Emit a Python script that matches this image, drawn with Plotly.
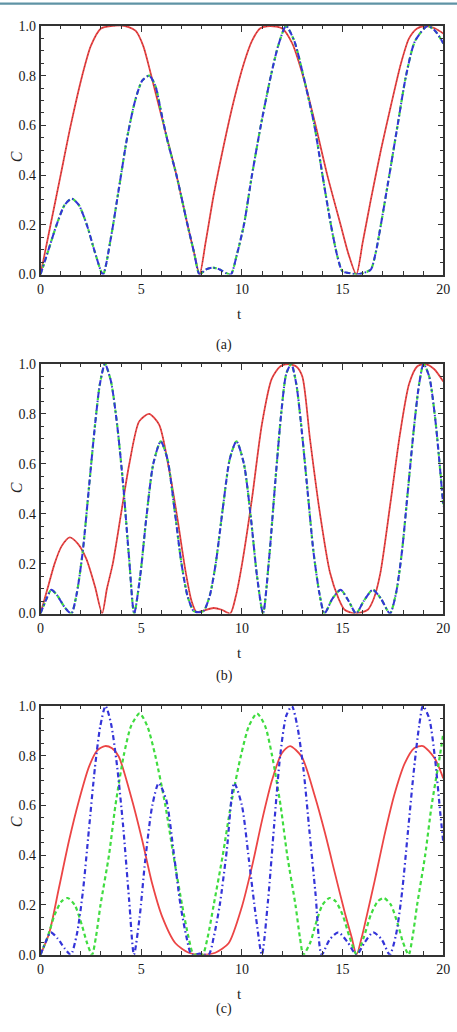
import plotly.graph_objects as go

# ---------------- data ----------------
# Panel (a)
ta_red = [0, 0.5, 1.0, 1.5, 2.07, 2.5, 3.0, 3.5, 4.2, 4.73, 5.1, 5.5, 6.12, 6.75, 7.3, 7.62, 7.9,
          8.2, 8.6, 9.1, 9.6, 10.1, 10.5, 10.9, 11.4, 12.0, 12.5, 13.03, 13.66, 14.24, 14.9, 15.3, 15.68,
          16.0, 16.4, 16.9, 17.4, 17.9, 18.3, 18.7, 19.1, 19.6, 20.0]
ca_red = [0, 0.2, 0.4, 0.6, 0.8, 0.92, 0.99, 1.0, 1.0, 0.98, 0.92, 0.8, 0.6, 0.4, 0.2, 0.09, 0.0,
          0.13, 0.32, 0.52, 0.7, 0.85, 0.94, 0.99, 1.0, 0.99, 0.93, 0.8, 0.6, 0.4, 0.2, 0.08, 0.0,
          0.13, 0.3, 0.5, 0.68, 0.85, 0.95, 0.99, 1.0, 0.99, 0.97]

ta_gb = [0, 0.4, 0.8, 1.2, 1.55, 1.9, 2.3, 2.7, 3.1, 3.5, 3.9, 4.3, 4.7, 5.05, 5.4, 5.7, 6.0, 6.3,
         6.75, 7.3, 7.62, 7.9, 8.2, 8.55, 8.9, 9.2, 9.45, 9.75, 10.1, 10.5, 10.94, 11.44, 11.8, 12.19,
         12.6, 13.05, 13.6, 14.0, 14.42, 14.75, 15.0, 15.4, 15.7, 16.0, 16.4, 16.65, 16.9, 17.32, 17.73,
         18.15, 18.6, 19.22, 19.6, 20.0]
ca_gb = [0, 0.1, 0.2, 0.28, 0.305, 0.28, 0.2, 0.09, 0.0, 0.15, 0.35, 0.55, 0.7, 0.78, 0.8, 0.76, 0.65, 0.54,
         0.4, 0.2, 0.09, 0.0, 0.02, 0.028, 0.02, 0.006, 0.0, 0.08, 0.2, 0.4, 0.6, 0.8, 0.92, 1.0,
         0.94, 0.8, 0.6, 0.4, 0.2, 0.07, 0.012, 0.005, 0.0, 0.005, 0.02, 0.09, 0.2, 0.4, 0.6,
         0.8, 0.94, 1.0, 0.98, 0.93]

# Panel (b)
tb_red = [0, 0.35, 0.7, 1.05, 1.45, 1.85, 2.27, 2.7, 3.06, 3.3, 3.59, 4.0, 4.41, 4.9, 5.39, 5.89, 6.38,
          6.8, 7.2, 7.5, 7.75, 8.1, 8.6, 9.0, 9.42, 9.7, 10.0, 10.5, 10.99, 11.48, 11.9, 12.3, 12.7,
          13.0, 13.38, 13.84, 14.37, 14.8, 15.1, 15.6, 16.25, 16.55, 16.87, 17.37, 17.85, 18.3, 18.7,
          19.1, 19.54, 20.0]
cb_red = [0, 0.1, 0.2, 0.27, 0.305, 0.28, 0.22, 0.11, 0.0, 0.1, 0.2, 0.4, 0.6, 0.77, 0.8, 0.757, 0.58,
          0.38, 0.17, 0.05, 0.005, 0.012, 0.022, 0.015, 0.0, 0.07, 0.195, 0.46, 0.757, 0.94, 0.99, 1.0, 0.99,
          0.95, 0.7, 0.42, 0.165, 0.06, 0.015, 0.0, 0.015, 0.06, 0.16, 0.44, 0.72, 0.92, 0.99,
          1.0, 0.98, 0.93]

tb_gb = [0, 0.25, 0.54, 0.85, 1.2, 1.53, 1.8, 2.1, 2.4, 2.7, 2.95, 3.2, 3.5, 3.8, 4.1, 4.4, 4.65,
         4.95, 5.25, 5.6, 5.97, 6.3, 6.65, 7.0, 7.3, 7.6, 7.85, 8.1, 8.4, 8.7, 9.05, 9.4, 9.73, 10.1,
         10.45, 10.75, 11.05, 11.35, 11.65, 11.95, 12.2, 12.45, 12.7, 12.95, 13.25, 13.55, 13.85, 14.1,
         14.5, 14.9, 15.3, 15.67, 16.05, 16.5, 16.9, 17.35, 17.65, 17.95, 18.25, 18.55, 18.8, 19.02,
         19.3, 19.6, 19.85, 20.0]
cb_gb = [0, 0.05, 0.095, 0.07, 0.025, 0.0, 0.08, 0.25, 0.5, 0.75, 0.92, 1.0, 0.93, 0.76, 0.52, 0.22, 0.0,
         0.15, 0.38, 0.6, 0.69, 0.62, 0.42, 0.2, 0.07, 0.01, 0.005, 0.01, 0.07, 0.2, 0.42, 0.62, 0.69, 0.6,
         0.38, 0.15, 0.0, 0.22, 0.52, 0.8, 0.96, 1.0, 0.92, 0.75, 0.5, 0.25, 0.08, 0.0,
         0.06, 0.095, 0.05, 0.0, 0.05, 0.095, 0.06, 0.0, 0.08, 0.25, 0.5, 0.75, 0.92, 1.0,
         0.95, 0.78, 0.57, 0.43]

# Panel (c)
tc_red = [0, 0.43, 0.92, 1.42, 1.91, 2.41, 2.8, 3.2, 3.55, 3.89, 4.55, 5.05, 5.54, 6.04, 6.7, 7.36, 8.0,
          8.68, 9.34, 10.0, 10.5, 11.0, 11.49, 11.98, 12.39, 12.97, 13.63, 14.13, 14.62, 15.12, 15.45,
          15.69, 15.95, 16.19, 16.6, 17.1, 17.59, 18.09, 18.55, 18.99, 19.57, 20.0]
cc_red = [0, 0.086, 0.27, 0.46, 0.62, 0.756, 0.82, 0.839, 0.83, 0.796, 0.62, 0.46, 0.287, 0.153, 0.046, 0.008, 0.0,
          0.008, 0.046, 0.193, 0.354, 0.54, 0.70, 0.81, 0.839, 0.796, 0.635, 0.488, 0.327, 0.166, 0.07,
          0.0, 0.07, 0.153, 0.30, 0.488, 0.649, 0.77, 0.83, 0.839, 0.79, 0.709]

tc_green = [0, 0.35, 0.7, 1.05, 1.35, 1.7, 2.05, 2.3, 2.56, 2.75, 2.98, 3.4, 3.72, 4.13, 4.5, 4.92, 5.3,
            5.7, 6.2, 6.6, 7.03, 7.35, 7.6, 7.82, 8.05, 8.3, 8.6, 9.05, 9.45, 9.95, 10.35, 10.75, 11.15,
            11.5, 11.92, 12.25, 12.66, 12.88, 13.05, 13.4, 13.65, 14.0, 14.35, 14.65, 15.0, 15.35, 15.7,
            16.05, 16.4, 16.75, 17.05, 17.4, 17.75, 18.0, 18.28, 18.47, 18.7, 19.1, 19.42, 19.83, 20.0]
cc_green = [0, 0.07, 0.16, 0.215, 0.228, 0.2, 0.12, 0.05, 0.0, 0.07, 0.2, 0.4, 0.6, 0.8, 0.92, 0.97, 0.92,
            0.8, 0.6, 0.4, 0.2, 0.07, 0.0, 0.004, 0.0, 0.07, 0.2, 0.4, 0.6, 0.8, 0.92, 0.97, 0.92,
            0.8, 0.6, 0.4, 0.2, 0.07, 0.0, 0.05, 0.12, 0.2, 0.228, 0.215, 0.16, 0.07, 0.0,
            0.07, 0.16, 0.215, 0.228, 0.2, 0.12, 0.05, 0.0, 0.07, 0.2, 0.4, 0.6, 0.8, 0.89]

tc_blue = [0, 0.25, 0.51, 0.85, 1.2, 1.5, 1.8, 2.1, 2.4, 2.7, 2.97, 3.23, 3.5, 3.8, 4.1, 4.4, 4.64,
           4.92, 5.2, 5.55, 5.87, 6.25, 6.6, 6.95, 7.25, 7.5, 7.9, 8.35, 8.6, 8.9, 9.25, 9.62, 10.0,
           10.35, 10.7, 10.99, 11.3, 11.6, 11.9, 12.2, 12.48, 12.75, 13.05, 13.35, 13.65, 13.96,
           14.35, 14.79, 15.25, 15.69, 16.1, 16.52, 16.95, 17.34, 17.65, 17.95, 18.25, 18.55, 18.8, 18.99,
           19.3, 19.6, 19.85, 20.0]
cc_blue = [0, 0.05, 0.09, 0.065, 0.025, 0.0, 0.08, 0.25, 0.5, 0.75, 0.92, 1.0, 0.93, 0.76, 0.52, 0.22, 0.0,
           0.15, 0.38, 0.6, 0.69, 0.62, 0.42, 0.2, 0.07, 0.0, 0.004, 0.0, 0.07, 0.2, 0.42, 0.69, 0.6,
           0.38, 0.15, 0.0, 0.22, 0.52, 0.8, 0.96, 1.0, 0.92, 0.75, 0.5, 0.25, 0.0,
           0.06, 0.09, 0.05, 0.0, 0.05, 0.09, 0.06, 0.0, 0.08, 0.25, 0.5, 0.75, 0.92, 1.0,
           0.95, 0.78, 0.57, 0.45]

x_ticks = [0, 5, 10, 15, 20]
y_ticks = [0.0, 0.2, 0.4, 0.6, 0.8, 1.0]
panel_labels = ["(a)", "(b)", "(c)"]

# ---------------- figure ----------------
W, H = 457, 1032
RED = "#ec4545"
GREEN = "#3fdc3f"
BLUE = "#3434d8"
FONT = "Liberation Serif"

fig = go.Figure()


def add_line(t, c, idx, color, dash, width, opacity=1.0):
    sfx = "" if idx == 1 else str(idx)
    fig.add_trace(go.Scatter(x=t, y=c, mode="lines", xaxis="x" + sfx, yaxis="y" + sfx,
                             line=dict(color=color, dash=dash, width=width, shape="spline", smoothing=0.7),
                             opacity=opacity, showlegend=False, hoverinfo="skip"))


GDASH = "4px,3px"
BDASH = "6px,2.5px,1.5px,2.5px"

# (a)
add_line(ta_red, ca_red, 1, RED, "solid", 1.8)
add_line(ta_red, ca_red, 1, "#222222", "1px,3px", 1.0, 0.5)
add_line(ta_gb, ca_gb, 1, GREEN, GDASH, 2.2)
add_line(ta_gb, ca_gb, 1, BLUE, BDASH, 2.0)
# (b)
add_line(tb_red, cb_red, 2, RED, "solid", 1.8)
add_line(tb_red, cb_red, 2, "#222222", "1px,3px", 1.0, 0.5)
add_line(tb_gb, cb_gb, 2, GREEN, GDASH, 2.2)
add_line(tb_gb, cb_gb, 2, BLUE, BDASH, 2.0)
# (c)
add_line(tc_red, cc_red, 3, RED, "solid", 1.8)
add_line(tc_green, cc_green, 3, GREEN, GDASH, 2.2)
add_line(tc_blue, cc_blue, 3, BLUE, "5px,3px,1.5px,3px", 2.2)

x0, x1 = 40.5 / W, 443.3 / W
panels_px = [(26, 274.5), (364, 613.5), (706, 954.7)]

axis_common = dict(showline=True, linecolor="#333333", linewidth=1.6, mirror="allticks",
                   ticks="inside", ticklen=6, tickwidth=1.2, tickcolor="#333333",
                   showgrid=False, zeroline=False, automargin=False,
                   tickfont=dict(family=FONT, size=14, color="#1a1a1a"))

layout = dict(width=W, height=H, margin=dict(l=0, r=0, t=0, b=0, pad=0, autoexpand=False),
              paper_bgcolor="white", plot_bgcolor="white", showlegend=False,
              font=dict(family=FONT))

annotations = []
for i, (top, bot) in enumerate(panels_px):
    sfx = "" if i == 0 else str(i + 1)
    layout["xaxis" + sfx] = dict(axis_common, domain=[x0, x1], range=[0, 20], anchor="y" + sfx,
                                 tickvals=x_ticks, ticklabelstandoff=1,
                                 minor=dict(dtick=1, ticks="inside", ticklen=3.5, tickwidth=1, tickcolor="#333333"))
    layout["yaxis" + sfx] = dict(axis_common, domain=[1 - bot / H, 1 - top / H], range=[0, 1],
                                 anchor="x" + sfx, tickvals=y_ticks, tickformat=".1f",
                                 minor=dict(dtick=0.05, ticks="inside", ticklen=3.5, tickwidth=1, tickcolor="#333333"))
    annotations.append(dict(text="t", x=240 / W, y=1 - (bot + 39) / H, xref="paper", yref="paper",
                            showarrow=False, height=13, borderpad=0, yanchor="middle",
                            font=dict(family=FONT, size=15, color="#222")))
    annotations.append(dict(text="<i>C</i>", x=6 / W, y=1 - ((top + bot) / 2 - 1) / H, xref="paper", yref="paper",
                            showarrow=False, textangle=-90, font=dict(family=FONT, size=16, color="#222")))
    annotations.append(dict(text=panel_labels[i], x=224 / W, y=1 - (bot + 62.5) / H, xref="paper", yref="paper",
                            showarrow=False, height=14, borderpad=0,
                            font=dict(family=FONT, size=14, color="#222")))

layout["annotations"] = annotations
layout["shapes"] = [dict(type="line", xref="paper", yref="paper", x0=0, x1=1,
                         y0=1 - 3.7 / H, y1=1 - 3.7 / H, line=dict(color="#5f93a5", width=2.2))]
fig.update_layout(**layout)
fig.write_html("out.html")
